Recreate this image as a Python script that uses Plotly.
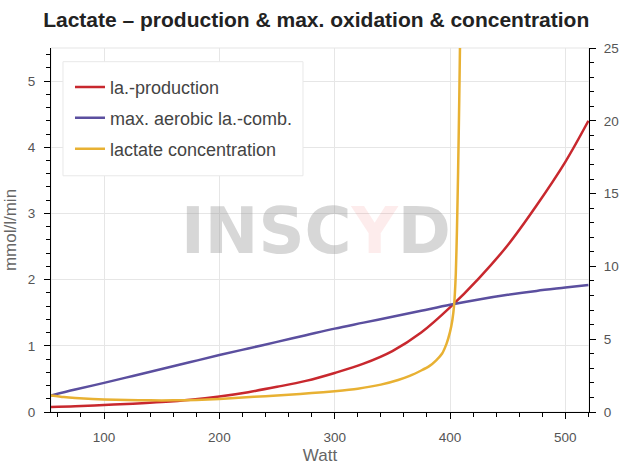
import plotly.graph_objects as go

# watt grid for the two production/oxidation curves
watt = [54, 75, 100, 125, 150, 175, 200, 225, 250, 275, 300, 325, 350, 375, 400, 425, 450, 475, 500, 520]
la_production = [0.075, 0.085, 0.105, 0.125, 0.15, 0.185, 0.235, 0.3, 0.38, 0.47, 0.59, 0.73, 0.92,
                 1.2, 1.58, 2.02, 2.52, 3.12, 3.78, 4.4]
la_combustion = [0.25, 0.34, 0.44, 0.545, 0.65, 0.755, 0.86, 0.96, 1.06, 1.16, 1.26, 1.35, 1.44,
                 1.53, 1.62, 1.7, 1.77, 1.83, 1.88, 1.92]

# lactate concentration (mmol/l, right axis)
watt_conc = [54, 65, 75, 90, 100, 120, 140, 160, 180, 200, 220, 240, 260, 280, 300, 320, 340, 355,
             365, 375, 382, 388, 393, 397, 400, 402, 403.5, 405, 406, 407, 408, 408.7, 409.2]
la_concentration = [1.14, 1.03, 0.96, 0.89, 0.86, 0.82, 0.8, 0.8, 0.83, 0.9, 0.99, 1.09, 1.18, 1.3,
                    1.43, 1.6, 1.88, 2.2, 2.48, 2.85, 3.15, 3.55, 4.0, 4.7, 5.5, 6.3, 7.3, 9.5,
                    12.5, 16.5, 21.5, 25.5, 29]

RED = "#c8282e"
BLUE = "#5b4f9f"
GOLD = "#e8b133"
FONT = "Liberation Sans, Arial, sans-serif"

fig = go.Figure()
fig.add_trace(go.Scatter(x=watt, y=la_production, name="la.-production", mode="lines",
                         line=dict(color=RED, width=2.5, shape="spline"), legendgroup="a"))
fig.add_trace(go.Scatter(x=watt, y=la_combustion, name="max. aerobic la.-comb.", mode="lines",
                         line=dict(color=BLUE, width=2.5, shape="spline"), legendgroup="b"))
fig.add_trace(go.Scatter(x=watt_conc, y=la_concentration, name="lactate concentration", mode="lines",
                         line=dict(color=GOLD, width=2.5, shape="spline", smoothing=0.6),
                         yaxis="y2", legendgroup="c"))

axis_common = dict(
    showline=True, linecolor="#000", linewidth=1.2,
    ticks="outside", ticklen=6, tickcolor="#000", tickwidth=1.2,
    tickfont=dict(family=FONT, size=13.5, color="#555"),
    zeroline=False, automargin=False,
)

fig.update_layout(
    width=620, height=465,
    margin=dict(l=51, r=31, t=48, b=53),
    paper_bgcolor="white", plot_bgcolor="white",
    font=dict(family=FONT, color="#444"),
    title=dict(text="<b>Lactate – production & max. oxidation & concentration</b>",
               x=0.51, xanchor="center", y=0.957, yanchor="middle",
               font=dict(family=FONT, size=21, color="#222")),
    xaxis=dict(range=[54, 520.5], tick0=0, dtick=100, showgrid=True, gridcolor="#e6e6e6",
               minor=dict(dtick=20, tick0=0, ticklen=4, ticks="outside", tickcolor="#000", showgrid=False),
               title=dict(text="Watt", font=dict(family=FONT, size=17, color="#666"), standoff=10),
               ticklabelstandoff=7,
               **axis_common),
    yaxis=dict(range=[0, 5.5], tick0=0, dtick=1, showgrid=True, gridcolor="#e6e6e6",
               minor=dict(dtick=0.2, tick0=0, ticklen=4, ticks="outside", tickcolor="#000", showgrid=False),
               title=dict(text="mmol/l/min", font=dict(family=FONT, size=17, color="#666"), standoff=6),
               ticklabelstandoff=6,
               **axis_common),
    yaxis2=dict(range=[0, 25], tick0=0, dtick=5, overlaying="y", side="right", showgrid=False,
                minor=dict(dtick=1, tick0=0, ticklen=4, ticks="outside", tickcolor="#000", showgrid=False),
                ticklabelstandoff=5,
                **axis_common),
    legend=dict(x=0.0353, y=0.9431, xanchor="left", yanchor="top",
                bgcolor="rgba(0,0,0,0)", borderwidth=0,
                font=dict(family=FONT, size=18, color="#444"), tracegroupgap=4.5),
    showlegend=True,
)

# light outline around the plot area
fig.add_shape(type="rect", xref="paper", yref="paper", x0=0, x1=1, y0=0, y1=1,
              line=dict(color="#e5e5e5", width=1), layer="below")

# legend box
fig.add_shape(type="rect", xref="paper", yref="paper", x0=0.0223, x1=0.4684, y0=0.649, y1=0.9624,
              line=dict(color="#e8e8e8", width=1), fillcolor="white", layer="above")

# watermark
fig.add_annotation(
    text="<b>INSC<span style='color:rgba(235,70,70,0.27)'>Y</span>D</b>",
    xref="paper", yref="paper", x=0.4926, y=0.498, showarrow=False,
    font=dict(family="DejaVu Sans", size=64, color="rgba(150,150,150,0.38)"),
)

# the page body has a default 8px margin; remove it so the figure sits at the corner
fig.write_html("out.html", config={"displayModeBar": False},
               post_script="document.body.style.margin='0';")
